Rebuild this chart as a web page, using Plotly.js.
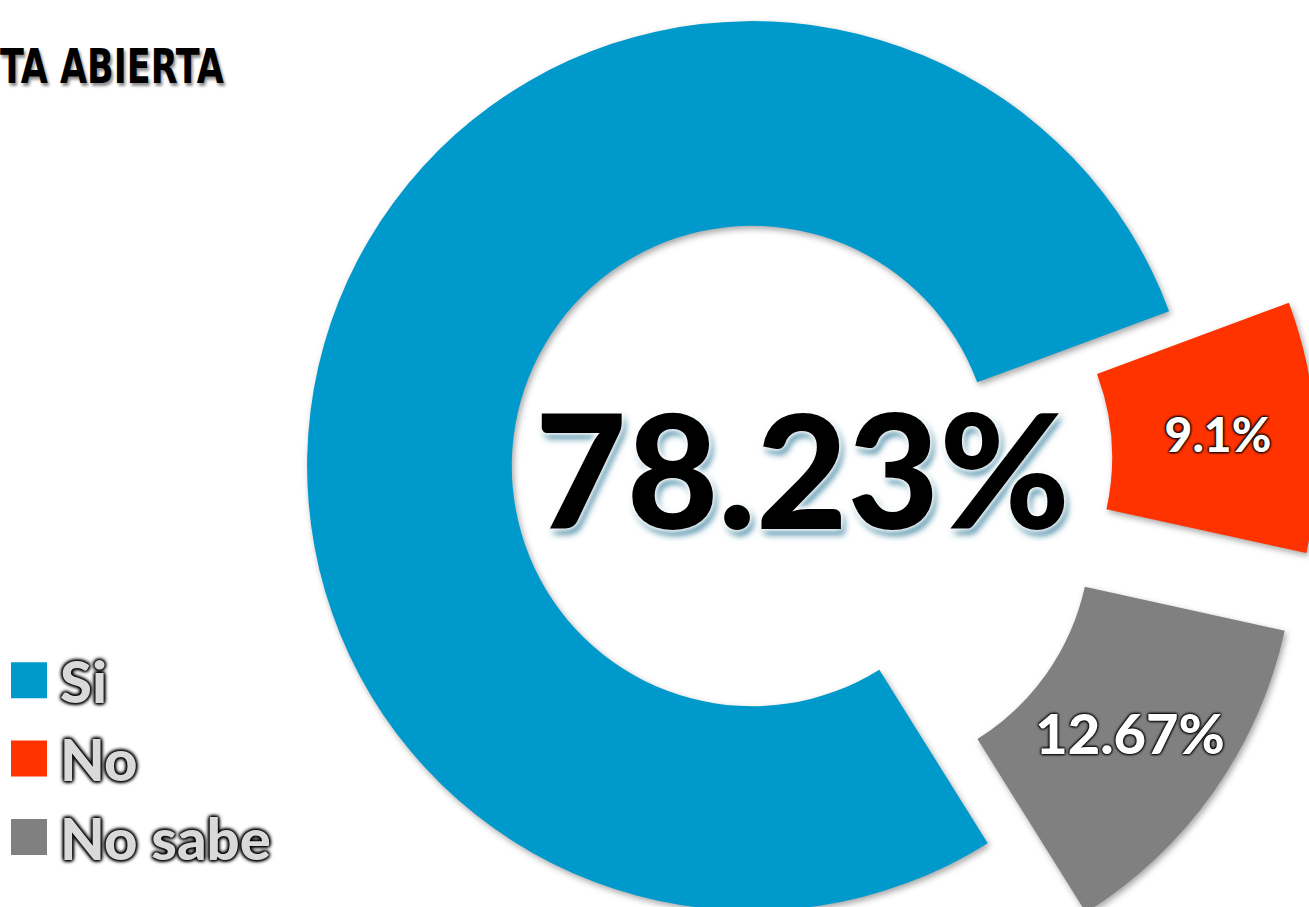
<!DOCTYPE html>
<html>
<head>
<meta charset="utf-8">
<script src="https://cdn.plot.ly/plotly-3.0.1.min.js"></script>
<style>
  html, body { margin: 0; padding: 0; width: 1309px; height: 907px; overflow: hidden; background: #fff; }
  #chart { position: absolute; left: 0; top: -99px; }
  .legend .legendpoints path.legendpie { transform: translate(29px, 0px) scale(3); }
  .pielayer .slice path.surface { filter: drop-shadow(2px 3px 3px rgba(0,0,0,0.35)); }
  .gtitle { transform: scaleX(0.81); }
</style>
</head>
<body>
<div id="chart"></div>
<script>
// ---- data ----
const categories = ['Si', 'No', 'No sabe'];
const values = [78.23, 9.1, 12.67];
const sliceColors = ['#0099CC', '#FF3300', '#808080'];
const pullOut = [0, 0.27, 0.27];
const labelTemplates = ['', '%{value}%', '%{value}%'];
const labelSizes = [10, 48, 56];
const chartTitle = 'TA ABIERTA';

// ---- figure geometry (oversized figure, window shows the visible part) ----
const W = 1504, H = 1130, TOP = 99;
const px = x => x / W;
const py = y => 1 - (y + TOP) / H;

const trace = {
  type: 'pie',
  labels: categories,
  values: values,
  sort: false,
  direction: 'clockwise',
  rotation: 148,
  hole: 0.54,
  pull: pullOut,
  marker: { colors: sliceColors, line: { width: 0 } },
  texttemplate: labelTemplates,
  textposition: 'inside',
  insidetextorientation: 'horizontal',
  textfont: {
    family: 'Lato, "Open Sans", sans-serif',
    size: labelSizes,
    color: '#ffffff',
    weight: 900,
    shadow: '0 0 3px #000, 0 0 3px #000, 0 0 3px #000, 0 0 2px #000'
  },
  hoverinfo: 'label+value',
  domain: { x: [0, 1], y: [0, 1] }
};

const layout = {
  width: W,
  height: H,
  autosize: false,
  margin: { l: 0, r: 0, t: 0, b: 0 },
  paper_bgcolor: '#ffffff',
  plot_bgcolor: '#ffffff',
  title: {
    text: chartTitle,
    x: 0, xref: 'container', xanchor: 'left',
    y: 1 - (66 + TOP) / H, yref: 'container', yanchor: 'middle',
    font: {
      family: '"Liberation Sans Narrow", "DejaVu Sans Condensed", "Liberation Sans", sans-serif',
      size: 48, color: '#000000', weight: 'bold',
      shadow: '2px 3px 3px rgba(0,0,0,0.45)'
    }
  },
  showlegend: true,
  legend: {
    x: px(0), xanchor: 'left',
    y: py(636), yanchor: 'top',
    bgcolor: 'rgba(0,0,0,0)',
    itemwidth: 50,
    font: {
      family: 'Lato, "Open Sans", sans-serif',
      size: 58, color: '#d9d9d9', weight: 900,
      shadow: '0 0 3px #000, 0 0 3px #000, 0 0 4px #000, 0 0 4px #000, 0 0 5px #000'
    }
  },
  annotations: [{
    text: values[0] + '%',
    x: px(802), xref: 'paper', xanchor: 'center',
    y: py(468), yref: 'paper', yanchor: 'middle',
    showarrow: false,
    font: {
      family: 'Lato, "Open Sans", sans-serif',
      size: 158, color: '#000000', weight: 900,
      shadow: '0 0 4px #fff, 0 0 6px #fff, 0 0 8px #fff, 3px 5px 7px #1b6f90'
    }
  }]
};

Plotly.newPlot('chart', [trace], layout, { displayModeBar: false, responsive: false });
</script>
</body>
</html>
